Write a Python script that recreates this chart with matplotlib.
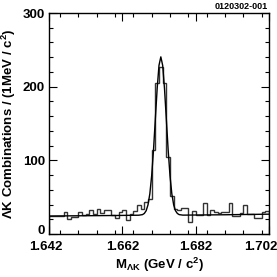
import matplotlib
matplotlib.use("Agg")
import matplotlib.pyplot as plt
import matplotlib.transforms as mtrans
from matplotlib.ticker import MultipleLocator
import numpy as np

# histogram: 60 bins of 1 MeV from 1.642 to 1.702 GeV
bin_lo = 1.642
bin_width = 0.001
counts = [25, 24, 24, 25, 30, 20, 23, 23, 30, 26,
          27, 33, 27, 34, 28, 33, 33, 26, 22, 30,
          32, 19, 27, 31, 40, 34, 44, 48, 114, 205,
          227, 205, 105, 52, 34, 32, 35, 35, 17, 31,
          26, 26, 42, 26, 33, 30, 28, 30, 30, 42,
          24, 24, 29, 39, 27, 27, 22, 22, 30, 31]

# fit curve
fit_x = [1.6420, 1.6600, 1.6665, 1.6675, 1.6680, 1.6685, 1.6690, 1.6695,
         1.6700, 1.6705, 1.6710, 1.6715, 1.6720, 1.6725, 1.6730, 1.6735,
         1.6740, 1.6745, 1.6750, 1.6755, 1.6760, 1.6765, 1.6770, 1.6775,
         1.6785, 1.6900, 1.7020]
fit_y = [24.5, 25.2, 25.6, 26.4, 28.0, 31.7, 39.7, 54.7,
         79.2, 114.0, 156.0, 197.6, 229.0, 240.5, 229.0, 197.6,
         156.0, 114.0, 79.2, 54.7, 39.7, 31.7, 28.0, 26.4,
         25.7, 26.2, 27.0]

xticks = [1.642, 1.662, 1.682, 1.702]
yticks = [0, 100, 200, 300]

plt.rcParams['font.family'] = ['Liberation Sans', 'DejaVu Sans']
plt.rcParams['font.weight'] = 'bold'
plt.rcParams['mathtext.fontset'] = 'custom'
plt.rcParams['mathtext.rm'] = 'Liberation Sans:bold'
plt.rcParams['mathtext.bf'] = 'Liberation Sans:bold'
plt.rcParams['mathtext.default'] = 'rm'

fig = plt.figure(figsize=(2.77, 2.77), dpi=100)
ax = fig.add_axes([0.177, 0.155, 0.794, 0.798])

edges = bin_lo + bin_width * np.arange(len(counts) + 1)
ax.stairs(counts, edges, color='#333333', lw=1.0)
ax.plot(fit_x, fit_y, color='black', lw=1.0)

ax.set_xlim(1.642, 1.702)
ax.set_ylim(0, 300)
ax.set_xticks(xticks)
ax.set_xticklabels([f'{t:.3f}' for t in xticks])
ax.set_yticks(yticks)
ax.xaxis.set_minor_locator(MultipleLocator(0.005))
ax.yaxis.set_minor_locator(MultipleLocator(20))
ax.tick_params(which='both', direction='in', top=True, right=True,
               labelsize=9.5, width=0.8)
ax.tick_params(axis='x', pad=5)
ax.tick_params(axis='y', pad=3)
ax.tick_params(which='major', length=6)
ax.tick_params(which='minor', length=3)
for s in ax.spines.values():
    s.set_linewidth(1.0)

# nudge end labels like the original
xl = ax.get_xticklabels()
xl[0].set_transform(xl[0].get_transform() + mtrans.ScaledTranslation(-0.03, 0, fig.dpi_scale_trans))
xl[-1].set_transform(xl[-1].get_transform() + mtrans.ScaledTranslation(-0.08, 0, fig.dpi_scale_trans))
yl = ax.get_yticklabels()
yl[0].set_transform(yl[0].get_transform() + mtrans.ScaledTranslation(0, 0.05, fig.dpi_scale_trans))

ax.set_ylabel('ΛK Combinations / (1MeV / c$^{2}$)',
              fontsize=9.5, fontweight='bold', labelpad=3)
ax.set_xlabel('M$_{ΛK}$ (GeV / c$^{2}$)',
              fontsize=9.5, fontweight='bold', labelpad=2)
fig.text(0.968, 0.975, '0120302-001', ha='right', va='center',
         fontsize=6.5, fontweight='bold')

fig.savefig('out.png', dpi=100)
